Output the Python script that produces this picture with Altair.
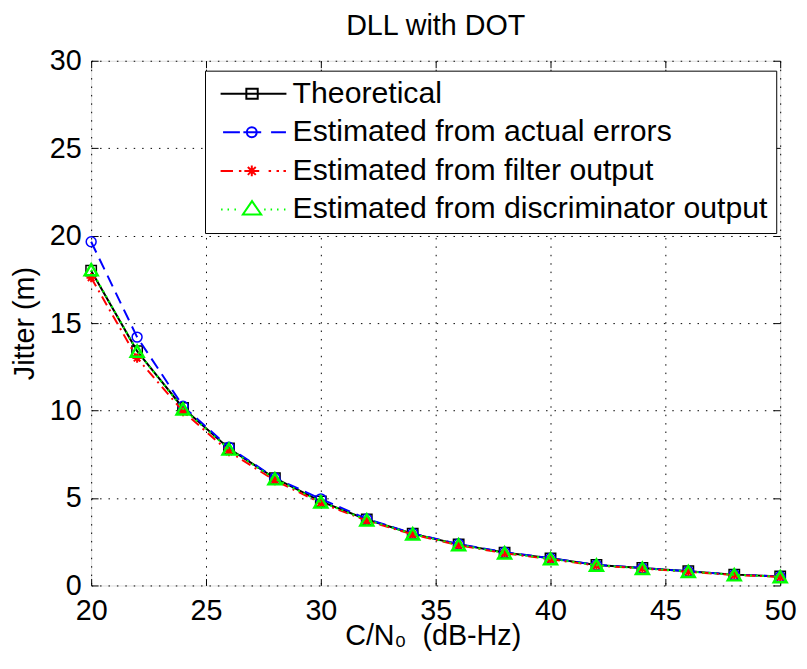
import altair as alt
import pandas as pd

# ---------------- data ----------------
cn0 = [20, 22, 24, 26, 28, 30, 32, 34, 36, 38, 40, 42, 44, 46, 48, 50]
theoretical = [18.0, 13.4, 10.15, 7.83, 6.13, 4.81, 3.77, 2.96, 2.35, 1.88, 1.55, 1.17, 1.0, 0.81, 0.62, 0.51]
actual_errors = [19.65, 14.2, 10.25, 7.9, 6.15, 4.95, 3.8, 2.98, 2.37, 1.9, 1.56, 1.18, 1.0, 0.81, 0.62, 0.51]
filter_output = [17.6, 13.0, 9.95, 7.65, 6.0, 4.72, 3.7, 2.92, 2.3, 1.84, 1.5, 1.14, 0.97, 0.78, 0.6, 0.49]
discriminator_output = [18.05, 13.4, 10.1, 7.8, 6.1, 4.78, 3.75, 2.95, 2.33, 1.86, 1.53, 1.16, 0.98, 0.8, 0.61, 0.5]

series_names = [
    "Theoretical",
    "Estimated from actual errors",
    "Estimated from filter output",
    "Estimated from discriminator output",
]
series_values = [theoretical, actual_errors, filter_output, discriminator_output]

x_ticks = [20, 25, 30, 35, 40, 45, 50]
y_ticks = [0, 5, 10, 15, 20, 25, 30]

# ---------------- styles ----------------
FONT = "Liberation Sans"
colors = ["#000000", "#0000ff", "#ff0000", "#00ff00"]
dashes = [None, [12, 7], [10, 5, 2, 5], [2, 4]]
star = "M0,-1V1M-1,0H1M-0.7,-0.7L0.7,0.7M-0.7,0.7L0.7,-0.7"
shapes = ["square", "circle", star, "triangle-up"]
sizes = [110, 100, 90, 170]
marker_widths = [1.5, 1.5, 2, 2.5]

legend_paths = [
    "M-1.5,0H11.8M3.7,-1H6V1H3.7Z",
    "M-1,0H2.4M3.1,0H6.7M8.7,0H11.7M5.8,0A1,1 0 1,1 3.8,0A1,1 0 1,1 5.8,0",
    "M-1.5,0H1M2.2,0H2.7M3.3,0H6.3M8.2,0H8.7M9.8,0H10.3M11.2,0H11.7"
    "M4.8,-1.1V1.1M3.7,0H5.9M4,-0.8L5.6,0.8M4,0.8L5.6,-0.8",
    "M-1.4,0H-1.1M-0.1,0H0.2M1.3,0H1.6M7.3,0H7.6M8.6,0H8.9M9.9,0H10.2M11.3,0H11.6"
    "M4.85,-1.7L6.7,1H3Z",
]

rows = []
for name, vals in zip(series_names, series_values):
    for xv, yv in zip(cn0, vals):
        rows.append({"cn0": xv, "jitter": yv, "series": name})
df = pd.DataFrame(rows)

xscale = alt.Scale(domain=[20, 50], nice=False, zero=False)
yscale = alt.Scale(domain=[0, 30], nice=False, zero=False)

main_x_axis = alt.Axis(
    values=x_ticks, grid=True, gridDash=[1.5, 7], gridColor="#000000", gridWidth=1,
    gridOpacity=1, ticks=False, domain=False, labelFont=FONT, labelFontSize=29,
    labelColor="black", labelPadding=11, labelFlush=False,
    title="C/N\u2080\u00a0\u00a0(dB-Hz)",
    titleFont=FONT, titleFontSize=29, titleFontWeight="normal", titleColor="black",
    titleX=345, titleY=60, titleAlign="center", titleBaseline="alphabetic",
)
main_y_axis = alt.Axis(
    values=y_ticks, grid=True, gridDash=[1.5, 7], gridColor="#000000", gridWidth=1,
    gridOpacity=1, ticks=False, domain=False, labelFont=FONT, labelFontSize=29,
    labelColor="black", labelPadding=10, labelFlush=False, title="Jitter (m)",
    titleFont=FONT, titleFontSize=29, titleFontWeight="normal", titleColor="black",
    titleAngle=270, titleX=-58, titleY=265, titleAlign="center",
    titleBaseline="alphabetic",
)


def tick_axis(orient, values):
    return alt.Axis(orient=orient, offset=-7, tickSize=7, ticks=True, tickColor="black",
                    tickWidth=1, labels=False, domain=False, grid=False, title=None,
                    values=values)


axes_plan = {
    0: (main_x_axis, main_y_axis),
    1: (tick_axis("bottom", x_ticks), tick_axis("left", y_ticks)),
    2: (tick_axis("top", x_ticks), tick_axis("right", y_ticks)),
}

layers = []
k = 0
for i, name in enumerate(series_names):
    for kind in ("line", "point"):
        ax_x, ax_y = axes_plan.get(k, (None, None))
        enc = dict(
            x=alt.X("cn0:Q", scale=xscale, axis=ax_x),
            y=alt.Y("jitter:Q", scale=yscale, axis=ax_y),
        )
        base = alt.Chart().transform_filter(alt.datum.series == name)
        if kind == "line":
            kw = dict(color=colors[i], strokeWidth=2)
            if dashes[i] is not None:
                kw["strokeDash"] = dashes[i]
            mark = base.mark_line(**kw)
        else:
            mark = base.mark_point(shape=shapes[i], color=colors[i], filled=False,
                                   size=sizes[i], strokeWidth=marker_widths[i], opacity=1)
        layers.append(mark.encode(**enc))
        k += 1

leg = alt.Legend(
    orient="none", legendX=115, legendY=10, direction="vertical", title=None,
    strokeColor="black", fillColor="white", padding=8, rowPadding=8,
    labelFont=FONT, labelFontSize=30.5, labelColor="black", labelLimit=0,
    labelOffset=50, symbolSize=100, symbolStrokeWidth=2, symbolOpacity=1,
)
legend_layer = alt.Chart().mark_point(filled=False, opacity=0).encode(
    x=alt.X("cn0:Q", scale=xscale, axis=None),
    y=alt.Y("jitter:Q", scale=yscale, axis=None),
    color=alt.Color("series:N", scale=alt.Scale(domain=series_names, range=colors), legend=leg),
    shape=alt.Shape("series:N", scale=alt.Scale(domain=series_names, range=legend_paths), legend=leg),
)
layers.append(legend_layer)

chart = alt.layer(*layers, data=df).resolve_axis(
    x="independent", y="independent"
).properties(
    width=696,
    height=530,
    autosize=alt.AutoSizeParams(type="none"),
    padding={"left": 84, "top": 50, "right": 19, "bottom": 73},
    title=alt.TitleParams(
        "DLL with DOT", font=FONT, fontSize=29, fontWeight="normal", color="black",
        anchor="middle", frame="group", baseline="alphabetic", offset=8, dy=25,
    ),
).configure_view(stroke="black", strokeWidth=1).configure(background="white")

chart.save("out.html", embed_options={"renderer": "svg", "actions": False})
